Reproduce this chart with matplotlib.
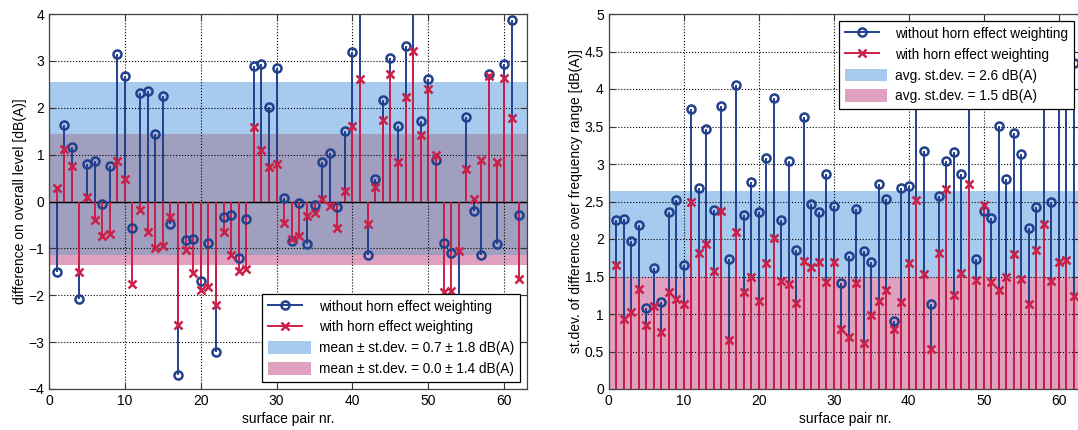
import numpy as np
import matplotlib
matplotlib.use('Agg')
from matplotlib import pyplot as plt
from matplotlib.lines import Line2D
from matplotlib.patches import Patch
from matplotlib.legend_handler import HandlerLine2D

plt.rcParams['font.family'] = ['Liberation Sans', 'DejaVu Sans']
plt.rcParams['font.size'] = 10

# surface pair numbers
pairs = np.arange(1, 63)

# left: difference on overall level [dB(A)]
diff_without = [-1.50, 1.64, 1.16, -2.08, 0.80, 0.87, -0.06, 0.76, 3.14, 2.67,
                -0.56, 2.32, 2.36, 1.44, 2.26, -0.49, -3.70, -0.83, -0.79, -1.69,
                -0.88, -3.21, -0.34, -0.29, -1.21, -0.38, 2.89, 2.93, 2.01, 2.85,
                0.07, -0.85, -0.04, -0.90, -0.08, 0.84, 1.04, -0.11, 1.50, 3.19,
                4.40, -1.14, 0.48, 2.17, 3.07, 1.62, 3.32, 4.20, 1.71, 2.61,
                0.89, -0.89, -1.09, -2.60, 1.81, -0.21, -1.14, 2.71, -0.91, 2.93,
                3.87, -0.29]
diff_with = [0.29, 1.12, 0.75, -1.50, 0.09, -0.40, -0.74, -0.70, 0.87, 0.49,
             -1.75, -0.18, -0.66, -1.00, -0.94, -0.34, -2.63, -1.04, -1.52, -1.88,
             -1.83, -2.21, -0.66, -1.14, -1.49, -1.43, 1.59, 1.09, 0.73, 0.79,
             -0.46, -0.80, -0.73, -0.30, -0.25, 0.06, -0.09, -0.56, 0.23, 1.62,
             2.61, -0.49, 0.30, 1.73, 2.71, 0.84, 2.23, 3.21, 1.41, 2.39,
             0.99, -1.93, -1.91, -1.06, 0.69, 0.05, 0.89, 2.67, 0.84, 2.64,
             1.79, -1.65]
diff_mean = [0.70, 0.045]
diff_sd = [1.85, 1.405]

# right: st.dev. of difference over frequency range [dB(A)]
sd_without = [2.26, 2.27, 1.98, 2.19, 1.08, 1.62, 1.16, 2.36, 2.52, 1.65,
              3.73, 2.68, 3.47, 2.39, 3.77, 1.74, 4.06, 2.32, 2.76, 2.36,
              3.08, 3.88, 2.25, 3.04, 1.86, 3.63, 2.47, 2.36, 2.87, 2.44,
              1.41, 1.78, 2.40, 1.84, 1.70, 2.73, 2.53, 0.91, 2.68, 2.71,
              4.40, 3.17, 1.13, 2.58, 3.04, 3.16, 2.87, 4.50, 1.74, 2.38,
              2.28, 3.51, 2.80, 3.42, 3.13, 2.15, 2.43, 4.30, 2.50, 4.45,
              4.60, 4.35]
sd_with = [1.66, 0.93, 1.03, 1.34, 0.85, 1.11, 0.76, 1.30, 1.20, 1.14,
           2.50, 1.81, 1.93, 1.57, 2.38, 0.65, 2.10, 1.30, 1.49, 1.17,
           1.68, 2.01, 1.44, 1.40, 1.15, 1.71, 1.63, 1.69, 1.43, 1.70,
           0.80, 0.69, 1.42, 0.61, 0.99, 1.17, 1.32, 0.80, 1.16, 1.68,
           2.52, 1.54, 0.54, 1.81, 2.67, 1.25, 1.55, 2.73, 1.46, 2.46,
           1.43, 1.32, 1.49, 1.80, 1.47, 1.13, 1.86, 2.20, 1.44, 1.69,
           1.72, 1.24]
sd_avg = [2.64, 1.50]

c_blue = '#21408E'
c_red = '#CC1F47'
band_blue = '#A7CAEF'
band_pink = '#DFA1BF'
band_both = '#A09FBF'


class HandlerMarkerEnd(HandlerLine2D):
    # MATLAB-like legend entry: line with the marker at its right end
    def get_xdata(self, legend, xdescent, ydescent, width, height, fontsize):
        xdata = np.array([-xdescent, -xdescent + width * 0.8])
        return xdata, np.array([-xdescent + width * 0.8])


def draw_stems(ax, x, y, color, marker, z):
    ax.vlines(x, 0, y, color=color, lw=1.4, zorder=z)
    ax.plot(x, y, ls='none', marker=marker, ms=5.8, mew=1.8,
            mfc='none', mec=color, zorder=z + 2)


def style_axes(ax):
    ax.set_axisbelow(True)
    ax.grid(True, ls=':', color='k', lw=0.8)
    ax.tick_params(direction='in', top=True, right=True, length=4,
                   labelsize=10, color='#333333')
    for s in ax.spines.values():
        s.set_color('#444444')
        s.set_linewidth(0.9)


def make_legend(ax, labels, loc):
    h = [Line2D([], [], color=c_blue, lw=1.4, marker='o', ms=5.8, mew=1.8,
                mfc='none'),
         Line2D([], [], color=c_red, lw=1.4, marker='x', ms=5.8, mew=1.8),
         Patch(facecolor=band_blue, edgecolor='none'),
         Patch(facecolor=band_pink, edgecolor='none')]
    leg = ax.legend(h, labels, loc=loc, fontsize=9.8, frameon=True,
                    fancybox=False, framealpha=1, edgecolor='k',
                    handlelength=3.1, handleheight=1.05, handletextpad=0.6,
                    labelspacing=0.5, borderaxespad=0.5, borderpad=0.45,
                    handler_map={Line2D: HandlerMarkerEnd()})
    leg.get_frame().set_linewidth(0.9)
    leg.set_zorder(10)


fig = plt.figure(figsize=(10.78, 4.30), dpi=100)

# ---- left panel
ax1 = fig.add_axes([49 / 1078, 41 / 430, 478 / 1078, 375 / 430])
lo = [m - s for m, s in zip(diff_mean, diff_sd)]
hi = [m + s for m, s in zip(diff_mean, diff_sd)]
ax1.axhspan(lo[0], hi[0], color=band_blue, lw=0, zorder=0.1)
ax1.axhspan(lo[1], hi[1], color=band_pink, lw=0, zorder=0.1)
ax1.axhspan(max(lo), min(hi), color=band_both, lw=0, zorder=0.2)
draw_stems(ax1, pairs, diff_without, c_blue, 'o', 2)
draw_stems(ax1, pairs, diff_with, c_red, 'x', 3)
ax1.axhline(0, color='k', lw=1.0, zorder=2.5)
ax1.set_xlim(0, 63)
ax1.set_ylim(-4, 4)
ax1.set_xticks(range(0, 61, 10))
ax1.set_yticks(range(-4, 5))
ax1.set_xlabel('surface pair nr.', labelpad=3)
ax1.set_ylabel('difference on overall level [dB(A)]', labelpad=1)
style_axes(ax1)
make_legend(ax1, ['without horn effect weighting', 'with horn effect weighting',
                  'mean \u00b1 st.dev. = %.1f \u00b1 %.1f dB(A)' % (diff_mean[0], diff_sd[0] - 0.05),
                  'mean \u00b1 st.dev. = %.1f \u00b1 %.1f dB(A)' % (diff_mean[1], diff_sd[1])],
            'lower right')

# ---- right panel
ax2 = fig.add_axes([608.7 / 1078, 41 / 430, 472.5 / 1078, 375 / 430])
ax2.axhspan(0, sd_avg[0], color=band_blue, lw=0, zorder=0.1)
ax2.axhspan(0, sd_avg[1], color=band_pink, lw=0, zorder=0.2)
draw_stems(ax2, pairs, sd_without, c_blue, 'o', 2)
draw_stems(ax2, pairs, sd_with, c_red, 'x', 3)
ax2.set_xlim(0, 63)
ax2.set_ylim(0, 5)
ax2.set_xticks(range(0, 61, 10))
ax2.set_yticks(np.arange(0, 5.01, 0.5))
ax2.set_yticklabels(['0', '0.5', '1', '1.5', '2', '2.5', '3', '3.5', '4', '4.5', '5'])
ax2.set_xlabel('surface pair nr.', labelpad=3)
ax2.set_ylabel('st.dev. of difference over frequency range [dB(A)]', labelpad=1)
style_axes(ax2)
make_legend(ax2, ['without horn effect weighting', 'with horn effect weighting',
                  'avg. st.dev. = %.1f dB(A)' % sd_avg[0],
                  'avg. st.dev. = %.1f dB(A)' % sd_avg[1]],
            'upper right')

fig.savefig('out.png', dpi=100, facecolor='white')
